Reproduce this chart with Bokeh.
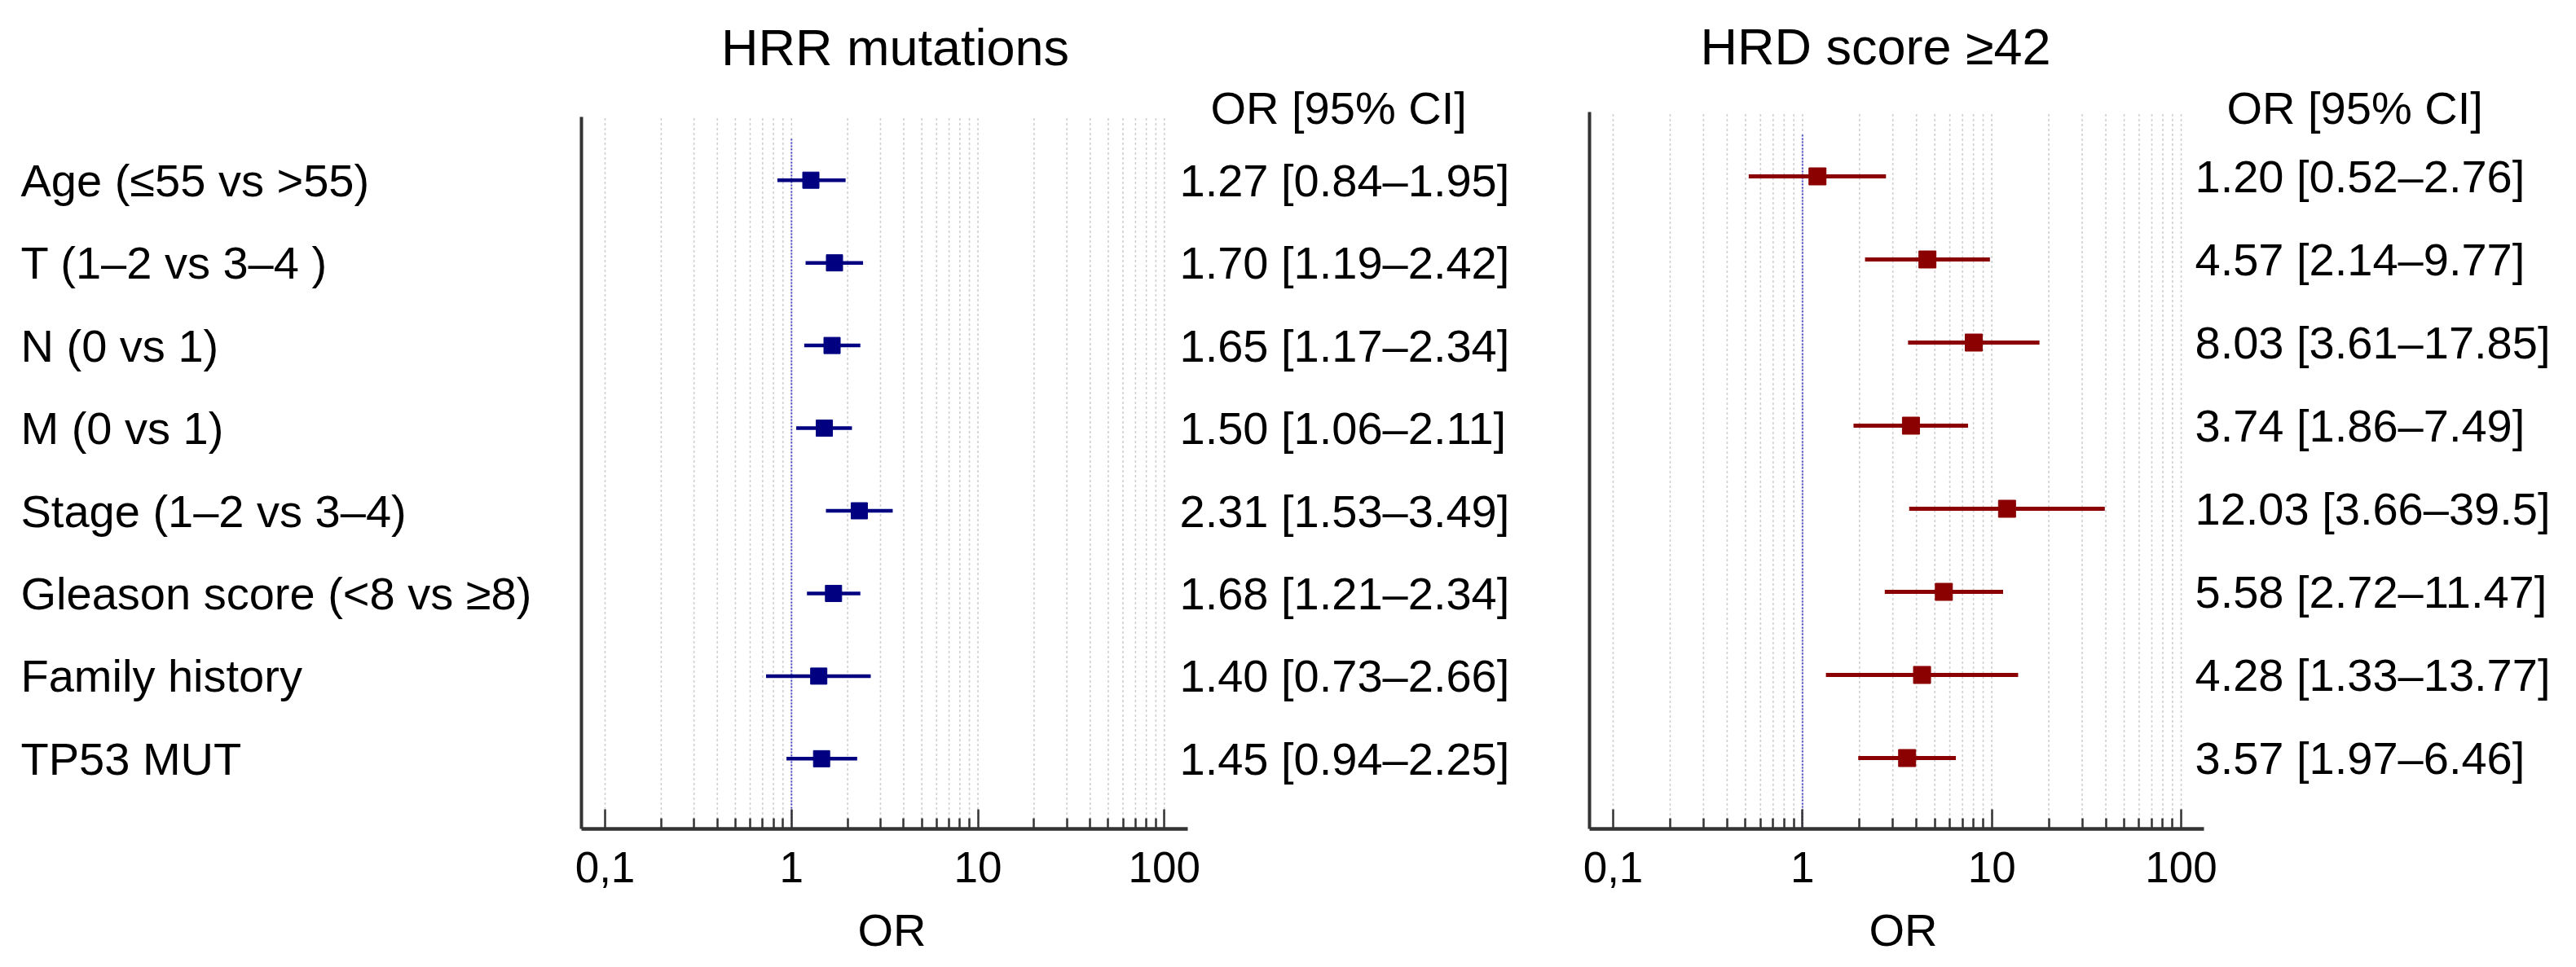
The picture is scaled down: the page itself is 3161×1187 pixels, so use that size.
import numpy as np
from bokeh.plotting import figure
from bokeh.models import Range1d, FixedTicker, LogAxis
from bokeh.layouts import row
from bokeh.core.properties import value
from bokeh.embed import file_html
from bokeh.resources import INLINE

# ---------------- data ----------------
CATEGORIES = ["Age (≤55 vs >55)", "T (1–2 vs 3–4 )", "N (0 vs 1)", "M (0 vs 1)",
              "Stage (1–2 vs 3–4)", "Gleason score (<8 vs ≥8)", "Family history", "TP53 MUT"]

HRR_OR = [1.27, 1.70, 1.65, 1.50, 2.31, 1.68, 1.40, 1.45]
HRR_LO = [0.84, 1.19, 1.17, 1.06, 1.53, 1.21, 0.73, 0.94]
HRR_HI = [1.95, 2.42, 2.34, 2.11, 3.49, 2.34, 2.66, 2.25]
HRR_TEXT = ["1.27 [0.84–1.95]", "1.70 [1.19–2.42]", "1.65 [1.17–2.34]", "1.50 [1.06–2.11]",
            "2.31 [1.53–3.49]", "1.68 [1.21–2.34]", "1.40 [0.73–2.66]", "1.45 [0.94–2.25]"]

HRD_OR = [1.20, 4.57, 8.03, 3.74, 12.03, 5.58, 4.28, 3.57]
HRD_LO = [0.52, 2.14, 3.61, 1.86, 3.66, 2.72, 1.33, 1.97]
HRD_HI = [2.76, 9.77, 17.85, 7.49, 39.5, 11.47, 13.77, 6.46]
HRD_TEXT = ["1.20 [0.52–2.76]", "4.57 [2.14–9.77]", "8.03 [3.61–17.85]", "3.74 [1.86–7.49]",
            "12.03 [3.66–39.5]", "5.58 [2.72–11.47]", "4.28 [1.33–13.77]", "3.57 [1.97–6.46]"]

TICKS_MAJOR = [0.1, 1, 10, 100]
TICK_LABELS = ["0,1", "1", "10", "100"]
TICKS_MINOR = [0.2, 0.3, 0.4, 0.5, 0.6, 0.7, 0.8, 0.9,
               2, 3, 4, 5, 6, 7, 8, 9,
               20, 30, 40, 50, 60, 70, 80, 90]
X_LABEL = "OR"
HEADER = "OR [95% CI]"

# ---------------- layout ----------------
FONT = "Liberation Sans"
ORIGIN = 0            # page offset of the figures
FRAME_BOTTOM = 1017
FRAME_H = FRAME_BOTTOM - ORIGIN
BORDER_BOTTOM = 120
AXIS_COLOR = "#333333"

ROWS = list(range(len(CATEGORIES)))
GRID_TOP = -0.75
REF_TOP = -0.5
AXIS_TOP = -0.77

PANELS = [
    dict(title="HRR mutations", ors=HRR_OR, lo=HRR_LO, hi=HRR_HI, txt=HRR_TEXT,
         color="#000080", lw=4.5, size=20,
         frame_left=713, frame_right=1940, p01=742, p100=1428.3, axis_end=1457.3,
         row0=220.7, step=101.45, title_cx=1098, title_cy=57,
         header_x=1485, header_cy=132, values_x=1447, xlabel_cx=1094),
    dict(title="HRD score ≥42", ors=HRD_OR, lo=HRD_LO, hi=HRD_HI, txt=HRD_TEXT,
         color="#8B0000", lw=5, size=21,
         frame_left=1950, frame_right=3150, p01=1979, p100=2676, axis_end=2704,
         row0=216, step=102, title_cx=2301, title_cy=56,
         header_x=2732, header_cy=132, values_x=2693, xlabel_cx=2335),
]


def make_panel(cfg):
    D = (cfg["p100"] - cfg["p01"]) / 3.0

    def px2x(px):
        return 10 ** (-1 + (px - cfg["p01"]) / D)

    def py2y(py):
        return (py - cfg["row0"]) / cfg["step"]

    y_bot = py2y(FRAME_BOTTOM)
    p = figure(x_axis_type="log",
               x_range=Range1d(px2x(cfg["frame_left"]), px2x(cfg["frame_right"])),
               y_range=Range1d(y_bot, py2y(ORIGIN)),
               frame_width=cfg["frame_right"] - cfg["frame_left"], frame_height=FRAME_H,
               min_border_left=10, min_border_right=0, min_border_top=0,
               min_border_bottom=BORDER_BOTTOM,
               output_backend="svg", toolbar_location=None)
    p.outline_line_color = None
    p.grid.visible = False
    p.background_fill_color = "white"

    # x axis
    xa = p.xaxis[0]
    xa.ticker = FixedTicker(ticks=TICKS_MAJOR, minor_ticks=TICKS_MINOR)
    xa.major_label_overrides = {t: l for t, l in zip(TICKS_MAJOR, TICK_LABELS)}
    xa.bounds = (px2x(cfg["frame_left"]), px2x(cfg["axis_end"]))
    xa.axis_line_color = AXIS_COLOR
    xa.axis_line_width = 4.5
    xa.major_tick_in = 24
    xa.major_tick_out = 0
    xa.minor_tick_in = 13
    xa.minor_tick_out = 0
    xa.major_tick_line_color = AXIS_COLOR
    xa.minor_tick_line_color = AXIS_COLOR
    xa.major_tick_line_width = 2.5
    xa.minor_tick_line_width = 2.5
    xa.major_label_text_font = FONT
    xa.major_label_text_font_size = "53px"
    xa.major_label_text_color = "black"
    xa.major_label_standoff = 28

    # axis title "OR", centred under the plotting box (second, line-less axis)
    x_lab = round(px2x(cfg["xlabel_cx"]), 4)
    xl = LogAxis(ticker=FixedTicker(ticks=[x_lab]),
                 major_label_overrides={x_lab: X_LABEL},
                 axis_line_color=None, major_tick_line_color=None,
                 minor_tick_line_color=None, major_tick_in=0, major_tick_out=0,
                 minor_tick_in=0, minor_tick_out=0,
                 major_label_standoff=24,
                 major_label_text_font=FONT, major_label_text_font_size="56px",
                 major_label_text_color="black")
    p.add_layout(xl, "below")

    # y axis (line only)
    ya = p.yaxis[0]
    ya.ticker = FixedTicker(ticks=[])
    ya.major_tick_line_color = None
    ya.minor_tick_line_color = None
    ya.major_label_text_font_size = "0px"
    ya.axis_line_color = AXIS_COLOR
    ya.axis_line_width = 4
    ya.bounds = (AXIS_TOP, y_bot)

    # dotted grid lines
    all_ticks = sorted(TICKS_MAJOR + TICKS_MINOR)
    n = len(all_ticks)
    p.segment(x0=all_ticks, y0=[GRID_TOP] * n, x1=all_ticks, y1=[y_bot] * n,
              line_color="#d0d0d0", line_width=1.6, line_dash="3 3")
    # reference line at OR = 1
    p.segment(x0=[1], y0=[REF_TOP], x1=[1], y1=[y_bot],
              line_color="#4848c8", line_width=2, line_dash="2 2")

    # CI and point estimates
    p.segment(x0=cfg["lo"], y0=ROWS, x1=cfg["hi"], y1=ROWS,
              line_color=cfg["color"], line_width=cfg["lw"])
    p.scatter(x=cfg["ors"], y=ROWS, marker="square", size=cfg["size"],
              fill_color=cfg["color"], line_color=cfg["color"])

    # texts
    p.text(x=[px2x(cfg["title_cx"])], y=[py2y(cfg["title_cy"])], text=[cfg["title"]],
           text_font=value(FONT), text_font_size="63px", text_align="center",
           text_baseline="middle", text_color="black")
    p.text(x=[px2x(cfg["header_x"])], y=[py2y(cfg["header_cy"])], text=[HEADER],
           text_font=value(FONT), text_font_size="56px", text_align="left",
           text_baseline="middle", text_color="black")
    p.text(x=[px2x(cfg["values_x"])] * len(ROWS), y=ROWS, text=cfg["txt"],
           text_font=value(FONT), text_font_size="56px", text_align="left",
           text_baseline="middle", text_color="black")
    return p


p1 = make_panel(PANELS[0])
p2 = make_panel(PANELS[1])

LABEL_W = PANELS[0]["frame_left"] - 10 - ORIGIN
pl = figure(x_range=Range1d(0, LABEL_W), y_range=p1.y_range,
            frame_width=LABEL_W, frame_height=FRAME_H,
            min_border_left=0, min_border_right=0, min_border_top=0,
            min_border_bottom=BORDER_BOTTOM,
            x_axis_location=None, y_axis_location=None,
            output_backend="svg", toolbar_location=None)
pl.outline_line_color = None
pl.grid.visible = False
pl.text(x=[25 - ORIGIN] * len(ROWS), y=ROWS, text=CATEGORIES,
        text_font=value(FONT), text_font_size="56px", text_align="left",
        text_baseline="middle", text_color="black")

layout = row(pl, p1, p2)
open("out.html", "w").write(file_html(layout, INLINE))
